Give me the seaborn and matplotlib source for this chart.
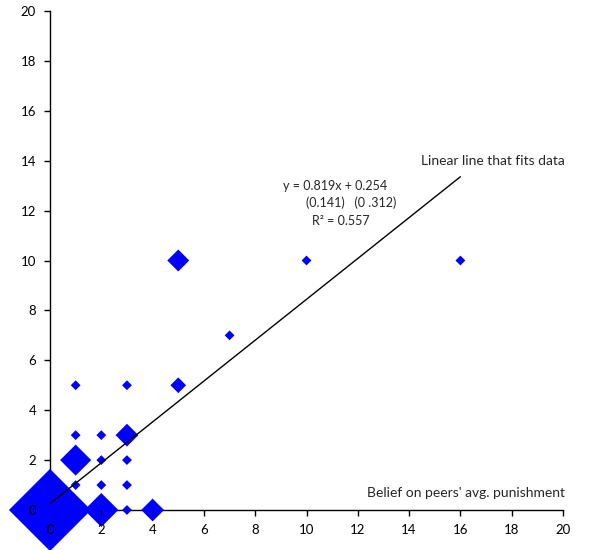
import numpy as np
import pandas as pd
import matplotlib
matplotlib.use("Agg")
import matplotlib.pyplot as plt
import seaborn as sns

# observed (own punishment vs belief on peers' avg. punishment)
x_vals = [0, 1, 2, 3, 4, 5, 5, 1, 1, 1, 2, 2, 2, 3, 3, 3, 3, 7, 10, 16]
y_vals = [0, 2, 0, 3, 0, 10, 5, 5, 3, 1, 3, 2, 1, 5, 2, 1, 0, 7, 10, 10]
marker_area = [1750, 250, 300, 135, 135, 125, 64, 25, 25, 25, 25, 25, 25, 25, 25, 25, 25, 25, 25, 25]

slope = 0.819
intercept = 0.254
line_x = [0, 16]

df = pd.DataFrame({"x": x_vals, "y": y_vals, "area": marker_area})

sns.set_style("white")
plt.rcParams["font.family"] = ["Lato", "DejaVu Sans"]

fig = plt.figure(figsize=(5.98, 5.5), dpi=100)
ax = fig.add_axes([50 / 598, 40 / 550, 513 / 598, 499 / 550])

sns.scatterplot(data=df, x="x", y="y", size="area",
                sizes={v: v for v in set(marker_area)},
                marker="D", color="#0000FF", linewidth=0, legend=False,
                ax=ax, clip_on=False, zorder=1)

lx = np.array(line_x)
ax.plot(lx, slope * lx + intercept, color="black", lw=1, zorder=3, clip_on=False)

ax.set_axisbelow(False)
ax.set_xlim(0, 20)
ax.set_ylim(0, 20)
ax.set_xticks(range(0, 21, 2))
ax.set_yticks(range(0, 21, 2))
ax.set_xlabel("")
ax.set_ylabel("")
ax.tick_params(direction="out", length=4, width=1, labelsize=9.5,
               colors="black", pad=6, left=True, bottom=True)
for side in ["top", "right"]:
    ax.spines[side].set_visible(False)
for side in ["left", "bottom"]:
    ax.spines[side].set_color("black")
    ax.spines[side].set_linewidth(1)
    ax.spines[side].set_zorder(0.5)

# tick marks at 0 sit under the big diamond in the original
ax.xaxis.get_major_ticks()[0].tick1line.set_visible(False)
ax.yaxis.get_major_ticks()[0].tick1line.set_visible(False)

ax.text(14.45, 14.0, "Linear line that fits data", fontsize=10, va="center")
ax.text(9.1, 13.0, "y = 0.819x + 0.254", fontsize=9, va="center")
ax.text(10.0, 12.3, "(0.141)   (0 .312)", fontsize=9, va="center")
ax.text(10.2, 11.6, "R² = 0.557", fontsize=9, va="center")
ax.text(12.35, 0.7, "Belief on peers' avg. punishment", fontsize=10, va="center")

fig.savefig("out.png", dpi=100)
